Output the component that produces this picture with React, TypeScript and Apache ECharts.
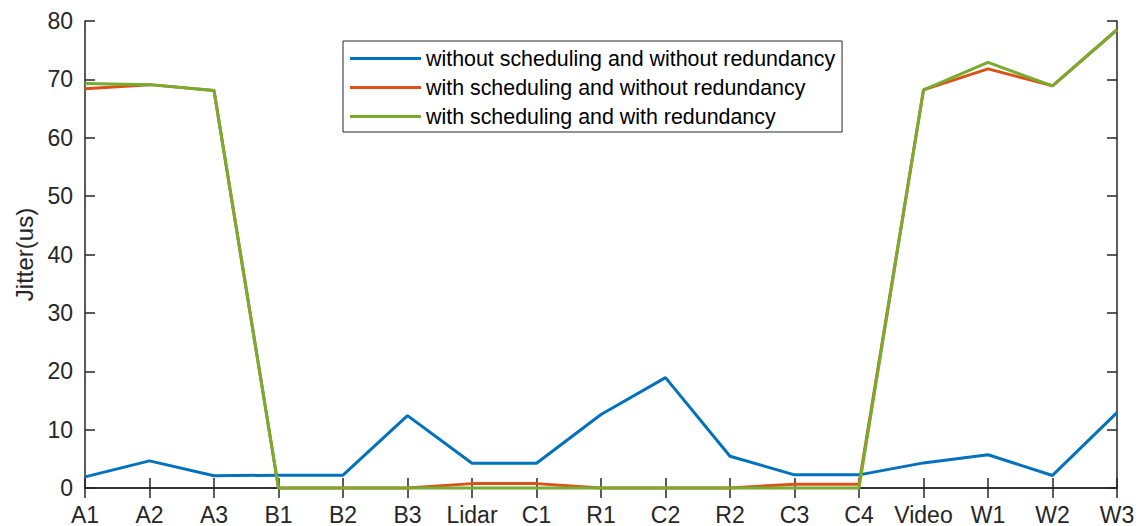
import React, { useEffect, useRef } from "react";
import * as echarts from "echarts";

const categories = ["A1", "A2", "A3", "B1", "B2", "B3", "Lidar", "C1", "R1", "C2", "R2", "C3", "C4", "Video", "W1", "W2", "W3"];
const seriesNames = [
  "without scheduling and without redundancy",
  "with scheduling and without redundancy",
  "with scheduling and with redundancy",
];
const noSchedNoRed = [1.9, 4.65, 2.1, 2.2, 2.2, 12.4, 4.25, 4.25, 12.6, 18.9, 5.45, 2.25, 2.25, 4.3, 5.7, 2.15, 12.9];
const schedNoRed = [68.4, 69.1, 68.1, 0, 0, 0, 0.75, 0.75, 0, 0, 0, 0.65, 0.65, 68.2, 71.8, 68.9, 78.5];
const schedRed = [69.3, 69.1, 68.1, 0, 0, 0, 0, 0, 0, 0, 0, 0, 0, 68.2, 72.9, 68.9, 78.5];
const colors = ["#0072BD", "#D95319", "#77AC30"];

const FONT = "'Liberation Sans', Arial, Helvetica, sans-serif";
const AX = "#262626";

export default function App() {
  const ref = useRef<HTMLDivElement>(null);
  useEffect(() => {
    document.body.style.margin = "0";
    const chart = echarts.init(ref.current!, null, { renderer: "svg" });
    const axisLine = { show: true, lineStyle: { color: AX, width: 1.5 } };
    const axisTick = { show: true, inside: true, length: 10, lineStyle: { color: AX, width: 1.5 } };
    chart.setOption({
      animation: false,
      backgroundColor: "#ffffff",
      textStyle: { fontFamily: FONT },
      grid: { left: 85, right: 25, top: 21, bottom: 38, containLabel: false },
      legend: {
        orient: "vertical",
        left: 343,
        top: 41,
        itemWidth: 71,
        itemHeight: 3,
        itemGap: 0,
        icon: "rect",
        padding: [3, 7, 1, 7],
        borderColor: AX,
        borderWidth: 1,
        backgroundColor: "#ffffff",
        textStyle: { fontSize: 21.4, lineHeight: 29, color: "#000000", fontFamily: FONT },
        data: seriesNames,
      },
      xAxis: [
        {
          type: "category",
          data: categories,
          boundaryGap: false,
          axisLine,
          axisTick,
          axisLabel: { color: AX, fontSize: 23, margin: 15, fontFamily: FONT, interval: 0 },
          splitLine: { show: false },
        },
        {
          type: "category",
          data: categories,
          position: "top",
          boundaryGap: false,
          axisLine,
          axisTick,
          axisLabel: { show: false },
          splitLine: { show: false },
        },
      ],
      yAxis: [
        {
          type: "value",
          min: 0,
          max: 80,
          interval: 10,
          name: "Jitter(us)",
          nameLocation: "middle",
          nameGap: 47,
          nameTextStyle: { color: AX, fontSize: 24, fontFamily: FONT },
          axisLine,
          axisTick,
          axisLabel: { color: AX, fontSize: 23, margin: 12, fontFamily: FONT },
          splitLine: { show: false },
        },
        {
          type: "value",
          min: 0,
          max: 80,
          interval: 10,
          position: "right",
          axisLine,
          axisTick,
          axisLabel: { show: false },
          splitLine: { show: false },
        },
      ],
      series: [noSchedNoRed, schedNoRed, schedRed].map((d, i) => ({
        name: seriesNames[i],
        type: "line",
        data: d,
        xAxisIndex: 0,
        yAxisIndex: 0,
        showSymbol: false,
        symbol: "none",
        color: colors[i],
        lineStyle: { color: colors[i], width: 3 },
        clip: false,
      })),
    });
    return () => chart.dispose();
  }, []);
  return <div ref={ref} style={{ position: "absolute", left: 0, top: 0, width: 1142, height: 526 }} />;
}
